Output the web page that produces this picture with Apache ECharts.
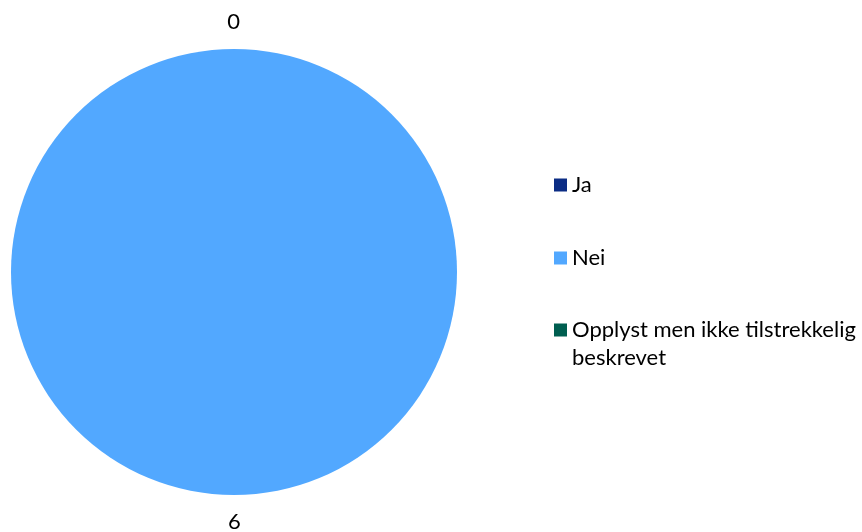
<!DOCTYPE html>
<html>
<head>
<meta charset="utf-8">
<script src="https://cdn.jsdelivr.net/npm/echarts@6/dist/echarts.min.js"></script>
<style>html,body{margin:0;padding:0;background:#fff}#c{width:862px;height:532px}</style>
</head>
<body>
<div id="c"></div>
<script>
const categories = ['Ja', 'Nei', 'Opplyst men ikke tilstrekkelig beskrevet'];
const values = [0, 6, 0];
const colors = ['#0B2C84', '#52A8FF', '#005E50'];
const showLabel = [true, true, false];

const FONT = 'Lato';
const chart = echarts.init(document.getElementById('c'), null, {renderer: 'canvas'});

const legendTops = [171, 244, 288];
const legends = categories.map((name, i) => ({
  orient: 'vertical',
  left: 554,
  top: legendTops[i],
  padding: 0,
  itemWidth: 13,
  itemHeight: 13,
  itemGap: 6,
  icon: 'rect',
  selectedMode: false,
  formatter: i === 2 ? '\n{name}' : '{name}',
  data: [name],
  textStyle: {
    fontFamily: FONT,
    fontSize: 22,
    color: '#000',
    lineHeight: 28,
    width: 295,
    overflow: 'break'
  }
}));

chart.setOption({
  animation: false,
  color: colors,
  legend: legends,
  series: [{
    type: 'pie',
    center: [234, 272],
    radius: 223,
    startAngle: 90,
    clockwise: true,
    minAngle: 0,
    stillShowZeroSum: true,
    avoidLabelOverlap: false,
    itemStyle: {borderWidth: 0},
    emphasis: {disabled: true},
    label: {
      show: true,
      position: 'outside',
      formatter: '{c}',
      fontFamily: FONT,
      fontSize: 22,
      color: '#000',
      distanceToLabelLine: 0
    },
    labelLine: {show: true, length: 27, length2: -6, lineStyle: {opacity: 0, width: 0}},
    data: categories.map((name, i) => ({
      name: name,
      value: values[i],
      label: {show: showLabel[i]},
      labelLine: {show: showLabel[i]}
    }))
  }]
});
</script>
</body>
</html>
